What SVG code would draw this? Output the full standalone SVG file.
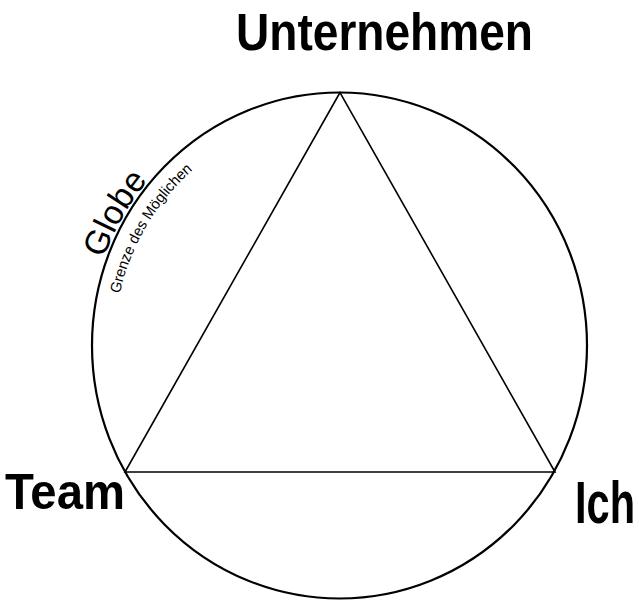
<svg xmlns="http://www.w3.org/2000/svg" xmlns:xlink="http://www.w3.org/1999/xlink" width="639" height="603" viewBox="0 0 639 603">
  <style>
    .big { font-family: "Liberation Sans", Arial, sans-serif; font-weight: bold; fill: #000; }
    .arc { font-family: "Liberation Sans", Arial, sans-serif; fill: #000; }
    .line { fill: none; stroke: #000; }
  </style>
  <defs>
    <path id="globePath" d="M 92.8 301.1 A 250.5 256 0 0 1 233.6 113.5"/>
    <path id="grenzePath" d="M 114.9 325.4 A 225.5 231 0 0 1 244.2 136.1"/>
  </defs>
  <rect width="639" height="603" fill="#fff"/>
  <g id="connectors">
    <polygon class="line" stroke-width="1.6" points="340,92.5 125,472 555,472"/>
  </g>
  <g id="globe">
    <ellipse class="line" stroke-width="2.2" cx="339.5" cy="345.5" rx="247.5" ry="253"/>
    <text class="arc" font-size="34"><textPath xlink:href="#globePath" href="#globePath" startOffset="44" textLength="90" lengthAdjust="spacingAndGlyphs">Globe</textPath></text>
    <text class="arc" font-size="15"><textPath xlink:href="#grenzePath" href="#grenzePath" startOffset="32" textLength="146" lengthAdjust="spacingAndGlyphs">Grenze des Möglichen</textPath></text>
  </g>
  <g id="unternehmen">
    <text class="big" x="236" y="50" font-size="51" textLength="297" lengthAdjust="spacingAndGlyphs">Unternehmen</text>
  </g>
  <g id="team">
    <text class="big" x="5" y="509" font-size="50" textLength="120" lengthAdjust="spacingAndGlyphs">Team</text>
  </g>
  <g id="ich">
    <text class="big" x="575" y="523" font-size="60" textLength="60" lengthAdjust="spacingAndGlyphs">Ich</text>
  </g>
</svg>
